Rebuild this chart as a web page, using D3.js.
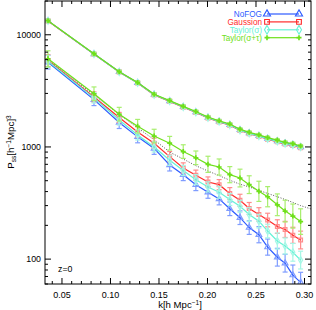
<!DOCTYPE html>
<html>
<head>
<meta charset="utf-8">
<script src="https://cdn.jsdelivr.net/npm/d3@7"></script>
<style>
  body { margin: 0; background: #fff; }
  #chart { width: 316px; height: 310px; }
  text { font-family: "Liberation Sans", Arial, sans-serif; }
</style>
</head>
<body>
<div id="chart"></div>
<script>
// k bins
var kVals = [0.0356, 0.083, 0.109, 0.128, 0.145, 0.161, 0.175, 0.188, 0.2005, 0.212,
             0.223, 0.2335, 0.243, 0.253, 0.262, 0.272, 0.280, 0.288, 0.296];

// upper group (all models overlap)
var topNoFog   = [13300, 6750, 4670, 3730, 2930, 2570, 2280, 2050, 1830, 1690, 1580, 1420, 1330, 1260, 1190, 1130, 1080, 1050, 1000];
var topGauss   = [13250, 6720, 4650, 3710, 2910, 2550, 2260, 2030, 1810, 1670, 1560, 1400, 1310, 1240, 1170, 1110, 1060, 1030, 985];
var topTaylorS = [13300, 6740, 4660, 3720, 2920, 2560, 2270, 2040, 1820, 1680, 1570, 1410, 1320, 1250, 1180, 1120, 1070, 1040, 995];
var topTaylorST= [13350, 6770, 4690, 3750, 2950, 2590, 2300, 2070, 1850, 1710, 1600, 1440, 1350, 1280, 1210, 1150, 1100, 1070, 1020];
var topErr     = [0.03, 0.03, 0.03, 0.03, 0.03, 0.03, 0.03, 0.03, 0.03, 0.03, 0.03, 0.03, 0.03, 0.03, 0.03, 0.03, 0.03, 0.03, 0.03];

// lower group
var noFog    = [5690, 2640, 1650, 1230, 970, 690, 566, 461, 394, 344, 281, 234, 191, 165, 128, 104, 92, 72, 62];
var gauss    = [5890, 2790, 1830, 1360, 1080, 820, 650, 560, 487, 461, 384, 335, 283, 250, 223, 195, 184, 163, 148];
var taylorS  = [5800, 2740, 1740, 1280, 1000, 760, 617, 511, 440, 394, 340, 296, 250, 218, 178, 145, 131, 115, 98];
var taylorST = [6100, 2980, 1960, 1530, 1250, 1080, 909, 800, 700, 662, 566, 528, 461, 402, 360, 305, 268, 242, 216];

// relative errors
var errNoFog    = [0.15, 0.13, 0.13, 0.13, 0.13, 0.13, 0.13, 0.13, 0.13, 0.13, 0.15, 0.15, 0.15, 0.18, 0.18, 0.2, 0.2, 0.23, 0.23];
var errGauss    = [0.13, 0.11, 0.11, 0.11, 0.11, 0.11, 0.11, 0.11, 0.11, 0.11, 0.13, 0.13, 0.13, 0.15, 0.15, 0.15, 0.18, 0.18, 0.2];
var errTaylorS  = [0.13, 0.11, 0.11, 0.11, 0.11, 0.11, 0.11, 0.11, 0.11, 0.13, 0.13, 0.13, 0.15, 0.15, 0.15, 0.18, 0.18, 0.2, 0.2];
var errTaylorST = [0.18, 0.15, 0.15, 0.15, 0.15, 0.15, 0.15, 0.15, 0.18, 0.18, 0.18, 0.2, 0.2, 0.23, 0.23, 0.25, 0.25, 0.28, 0.3];

// dotted reference curve
var dotK = [0.0356, 0.083, 0.109, 0.128, 0.145, 0.161, 0.175, 0.188, 0.2005, 0.212, 0.223, 0.2335, 0.243, 0.253, 0.262, 0.272, 0.280, 0.288, 0.296, 0.3067];
var dotP = [6000, 2900, 1950, 1480, 1160, 900, 780, 680, 610, 555, 505, 465, 440, 410, 385, 360, 340, 320, 300, 280];

var xTicks = [0.05, 0.10, 0.15, 0.20, 0.25, 0.30];
var yTicks = [100, 1000, 10000];

var series = [
    { name: "NoFOG", color: "#2d5bff", light: "#7f9cff", sym: d3.symbolTriangle, top: topNoFog, low: noFog, err: errNoFog },
    { name: "Gaussion", color: "#ff2a2a", light: "#ff8c8c", sym: d3.symbolSquare, top: topGauss, low: gauss, err: errGauss },
    { name: "Taylor(σ)", color: "#66f2d6", light: "#a6f7e6", sym: d3.symbolDiamond, top: topTaylorS, low: taylorS, err: errTaylorS },
    { name: "Taylor(σ+τ)", color: "#6ee01a", light: "#a8ee6e", sym: d3.symbolCross, top: topTaylorST, low: taylorST, err: errTaylorST }
];

var width = 316, height = 310;
var svg = d3.select("#chart").append("svg")
    .attr("width", width)
    .attr("height", height);

var x = d3.scaleLinear().domain([0.0325, 0.3067]).range([45, 311]);
var y = d3.scaleLog().domain([60, 20000]).range([284, 1]);

var plot = svg.append("g");
plot.append("clipPath").attr("id", "clip")
    .append("rect").attr("x", 45).attr("y", 1).attr("width", 266).attr("height", 283);

var body = plot.append("g").attr("clip-path", "url(#clip)");

var line = d3.line()
    .x(function(d) { return x(d[0]); })
    .y(function(d) { return y(d[1]); });

// dotted curve
body.append("path")
    .attr("d", line(d3.zip(dotK, dotP)))
    .attr("fill", "none")
    .attr("stroke", "#555")
    .attr("stroke-width", 1)
    .attr("stroke-dasharray", "1,1.6");

function drawSeries(s, vals, errs) {
    var pts = kVals.map(function(k, i) { return { k: k, p: vals[i], e: errs[i] }; });
    var g = body.append("g");

    g.selectAll("line.err")
        .data(pts).enter().append("line")
        .attr("x1", function(d) { return x(d.k); })
        .attr("x2", function(d) { return x(d.k); })
        .attr("y1", function(d) { return y(d.p * (1 + d.e)); })
        .attr("y2", function(d) { return y(d.p / (1 + d.e)); })
        .attr("stroke", s.light).attr("stroke-width", 1.2);

    [1, -1].forEach(function(sgn) {
        g.selectAll("line.cap" + sgn)
            .data(pts).enter().append("line")
            .attr("x1", function(d) { return x(d.k) - 2.5; })
            .attr("x2", function(d) { return x(d.k) + 2.5; })
            .attr("y1", function(d) { return y(sgn > 0 ? d.p * (1 + d.e) : d.p / (1 + d.e)); })
            .attr("y2", function(d) { return y(sgn > 0 ? d.p * (1 + d.e) : d.p / (1 + d.e)); })
            .attr("stroke", s.light).attr("stroke-width", 1.2);
    });

    g.append("path")
        .attr("d", line(pts.map(function(d) { return [d.k, d.p]; })))
        .attr("fill", "none")
        .attr("stroke", s.color)
        .attr("stroke-width", 1.2);

    g.selectAll("path.mk")
        .data(pts).enter().append("path")
        .attr("transform", function(d) { return "translate(" + x(d.k) + "," + y(d.p) + ")"; })
        .attr("d", d3.symbol().type(s.sym).size(14))
        .attr("fill", s.sym === d3.symbolCross ? s.color : "none")
        .attr("stroke", s.sym === d3.symbolCross ? "none" : s.light)
        .attr("stroke-width", 1.2);
}

series.forEach(function(s) { drawSeries(s, s.top, topErr); });
series.forEach(function(s) { drawSeries(s, s.low, s.err); });

// frame
plot.append("rect")
    .attr("x", 45).attr("y", 1).attr("width", 266).attr("height", 283)
    .attr("fill", "none").attr("stroke", "#000").attr("stroke-width", 1);

// x ticks (inside, top and bottom)
var xMinor = d3.range(0.04, 0.305, 0.01);
var xa = plot.append("g");
xMinor.forEach(function(t) {
    var major = xTicks.some(function(m) { return Math.abs(m - t) < 1e-6; });
    var len = major ? 6 : 3;
    xa.append("line").attr("x1", x(t)).attr("x2", x(t)).attr("y1", 284).attr("y2", 284 - len).attr("stroke", "#000");
    xa.append("line").attr("x1", x(t)).attr("x2", x(t)).attr("y1", 1).attr("y2", 1 + len).attr("stroke", "#000");
});
xa.selectAll("text").data(xTicks).enter().append("text")
    .attr("x", function(d) { return x(d); })
    .attr("y", 298)
    .attr("text-anchor", "middle")
    .attr("font-size", "9px")
    .text(function(d) { return d3.format(".2f")(d); });

// y ticks (inside, left and right)
var ya = plot.append("g");
var yAll = [];
[10, 100, 1000, 10000].forEach(function(dec) {
    for (var m = 1; m < 10; m++) { yAll.push({ v: dec * m, major: m === 1 }); }
});
yAll.filter(function(d) { return d.v >= 60 && d.v <= 20000; }).forEach(function(d) {
    var len = d.major ? 6 : 3;
    ya.append("line").attr("x1", 45).attr("x2", 45 + len).attr("y1", y(d.v)).attr("y2", y(d.v)).attr("stroke", "#000");
    ya.append("line").attr("x1", 311).attr("x2", 311 - len).attr("y1", y(d.v)).attr("y2", y(d.v)).attr("stroke", "#000");
});
ya.selectAll("text").data(yTicks).enter().append("text")
    .attr("x", 41)
    .attr("y", function(d) { return y(d) + 3; })
    .attr("text-anchor", "end")
    .attr("font-size", "8.8px")
    .text(function(d) { return d; });

// axis titles
var xt = svg.append("text")
    .attr("x", 180).attr("y", 308)
    .attr("text-anchor", "middle")
    .attr("font-size", "9.6px");
xt.append("tspan").text("k[h  Mpc");
xt.append("tspan").attr("dy", -3.5).attr("font-size", "6.5px").text("−1");
xt.append("tspan").attr("dy", 3.5).text("]");

var yt = svg.append("text")
    .attr("transform", "translate(14,142) rotate(-90)")
    .attr("text-anchor", "middle")
    .attr("font-size", "9.8px");
yt.append("tspan").text("P");
yt.append("tspan").attr("dy", 2).attr("font-size", "6.5px").text("ss");
yt.append("tspan").attr("dy", -2).text("[h");
yt.append("tspan").attr("dy", -3.5).attr("font-size", "6.5px").text("−1");
yt.append("tspan").attr("dy", 3.5).text("Mpc]");
yt.append("tspan").attr("dy", -3.5).attr("font-size", "6.5px").text("3");

svg.append("text")
    .attr("x", 58).attr("y", 272)
    .attr("font-size", "8.8px")
    .text("z=0");

// legend
var leg = svg.append("g");
series.forEach(function(s, i) {
    var ly = 14 + i * 7.9;
    leg.append("text")
        .attr("x", 262).attr("y", ly + 3)
        .attr("text-anchor", "end")
        .attr("font-size", "8.2px")
        .attr("fill", s.color)
        .text(s.name);
    leg.append("line")
        .attr("x1", 267).attr("x2", 299).attr("y1", ly).attr("y2", ly)
        .attr("stroke", s.color).attr("stroke-width", 1.2);
    [267, 299].forEach(function(px) {
        leg.append("path")
            .attr("transform", "translate(" + px + "," + ly + ")")
            .attr("d", d3.symbol().type(s.sym).size(s.sym === d3.symbolCross ? 14 : 22))
            .attr("fill", s.sym === d3.symbolCross ? s.color : "none")
            .attr("stroke", s.sym === d3.symbolCross ? "none" : s.color)
            .attr("stroke-width", 1.1);
    });
});
</script>
</body>
</html>
